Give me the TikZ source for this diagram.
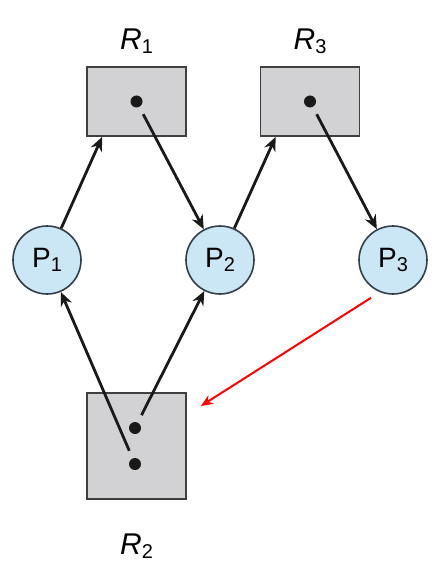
\documentclass[tikz,border=0pt]{standalone}
\usepackage{fontspec}
\setmainfont{Liberation Sans}
\usetikzlibrary{arrows.meta,calc}
\definecolor{procblue}{RGB}{203,231,246}
\definecolor{procline}{RGB}{50,62,72}
\definecolor{resgray}{RGB}{210,210,212}
\newcommand{\idx}[1]{\raisebox{-2pt}{\upshape\fontsize{10}{12}\selectfont #1}}
\tikzstyle{process}=[circle,fill=procblue,draw=procline,line width=0.8pt,minimum size=34pt,inner sep=0pt,font=\fontsize{14}{17}\selectfont]
\tikzstyle{resource}=[rectangle,fill=resgray,draw=black!75,line width=0.9pt,minimum width=49.5pt,inner sep=0pt]
\tikzstyle{instance}=[circle,fill=black!90,minimum size=6pt,inner sep=0pt]
\tikzstyle{edge} = [draw,black!90,line width=1.4pt,->]
\tikzstyle{claim} = [draw,red,line width=1pt,-{Stealth[length=6pt,width=5pt]}]
\tikzstyle{rlabel} = [font=\fontsize{15}{18}\selectfont\itshape,inner sep=0pt]
\begin{document}
\begin{tikzpicture}[x=0.5pt,y=-0.5pt,>={Stealth[length=7pt,width=6pt]}]
    \useasboundingbox (0,0) rectangle (443,577);

    % processes
    \foreach \pos/\name/\num in {{(47,260)/p1/1},{(220,260)/p2/2},{(393,260)/p3/3}}
        \node[process] (\name) at \pos {P\idx{\num}};

    % resources with their instances
    \node[resource,minimum height=34.5pt,label={[rlabel,label distance=6pt]above:R\idx{1}}] (r1) at (136.5,101.5) {};
    \node[resource,minimum height=34.5pt,label={[rlabel,label distance=6pt]above:R\idx{3}}] (r3) at (310,101.5) {};
    \node[resource,minimum height=53pt,label={[rlabel,label distance=17pt]below:R\idx{2}}] (r2) at (136.5,446) {};
    \node[instance] (d1) at (r1) {};
    \node[instance] (d3) at (r3) {};
    \node[instance] (d2a) at ([xshift=-0.75pt,yshift=9pt]r2.center) {};
    \node[instance] (d2b) at ([xshift=-0.75pt,yshift=-9pt]r2.center) {};

    % request edges
    \foreach \source/ \dest in {p1/r1, p2/r3}
        \path[edge] (\source) -- ([xshift=8pt]\dest.south west);
    % assignment edges
    \foreach \source/ \dest in {d1/p2, d3/p3, d2a/p2, d2b/p1}
        \path[edge, shorten <=4pt] (\source) -- (\dest);

    \path[claim] ([xshift=-11pt,yshift=-1.5pt]p3.south) -- ([xshift=7pt,yshift=20pt]r2.east);

\end{tikzpicture}
\end{document}
